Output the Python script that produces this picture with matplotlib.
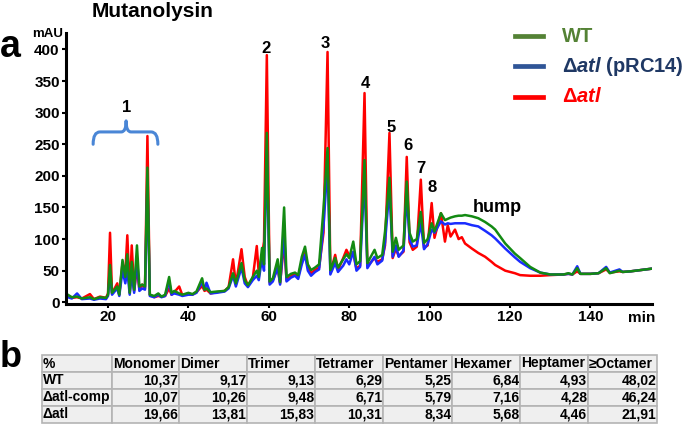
import matplotlib
matplotlib.use("Agg")
import matplotlib.pyplot as plt
from matplotlib.path import Path
from matplotlib.patches import PathPatch
from matplotlib.lines import Line2D
from matplotlib.table import Table

plt.rcParams['font.family'] = ['Liberation Sans', 'DejaVu Sans']
plt.rcParams['font.weight'] = 'bold'
plt.rcParams['mathtext.fontset'] = 'custom'
plt.rcParams['mathtext.it'] = 'Liberation Sans:italic:bold'
plt.rcParams['mathtext.rm'] = 'Liberation Sans:bold'

# chromatogram (min, mAU)
time = [
    10.0, 11.0, 12.3, 13.5, 15.5, 16.5, 18.0, 19.5, 20.0, 20.5,
    21.0, 22.3, 22.8, 23.6, 24.3, 24.8, 25.4, 25.9, 26.5, 27.2,
    27.8, 28.5, 29.2, 29.8, 30.4, 31.5, 32.5, 33.3, 34.2, 35.2,
    35.8, 36.5, 37.7, 38.5, 40.0, 41.0, 42.0, 43.4, 44.0, 44.5,
    45.5, 47.0, 49.0, 50.0, 51.1, 51.8, 53.2, 54.0, 54.8, 56.0,
    57.0, 57.5, 58.3, 58.8, 59.5, 60.2, 61.0, 62.2, 62.8, 63.8,
    64.4, 65.5, 66.5, 67.3, 68.2, 69.0, 69.7, 70.5, 71.5, 72.5,
    73.6, 74.6, 75.3, 76.5, 77.2, 78.5, 79.3, 80.0, 81.0, 81.8,
    82.7, 83.8, 84.5, 86.3, 87.0, 88.2, 88.9, 90.0, 90.8, 91.6,
    92.3, 93.5, 94.3, 95.0, 95.8, 96.8, 97.8, 98.6, 99.5, 100.5,
    101.2, 102.8, 103.8, 104.5, 105.2, 106.3, 107.2, 108.0, 108.8, 110.5,
    112.1, 113.8, 115.4, 116.3, 118.8, 121.2, 122.5, 125.0, 127.5, 130.0,
    133.3, 134.5, 135.5, 136.7, 137.5, 140.0, 142.0, 143.9, 144.8, 147.2,
    148.0, 150.0, 152.5, 155.0,
]
wt = [
    12, 8, 9, 6, 8, 5, 8, 7, 12, 59,
    15, 25, 12, 67, 40, 76, 15, 64, 20, 90,
    25, 28, 25, 213, 12, 10, 14, 9, 12, 40,
    15, 18, 14, 12, 15, 13, 17, 38, 20, 22,
    16, 17, 18, 24, 46, 30, 62, 35, 27, 40,
    50, 40, 86, 60, 268, 33, 38, 68, 32, 150,
    40, 45, 47, 43, 72, 88, 60, 51, 55, 60,
    149, 244, 51, 70, 55, 68, 76, 70, 96, 60,
    65, 225, 62, 83, 70, 75, 112, 197, 80, 102,
    83, 90, 191, 110, 96, 100, 143, 94, 100, 125,
    112, 141, 130, 132, 134, 136, 137, 137, 138, 136,
    133, 127, 120, 115, 93, 77, 70, 56, 47, 44,
    44, 46, 44, 54, 45, 45, 46, 54, 46, 50,
    48, 49, 51, 53,
]
comp = [
    8, 6, 14, 5, 6, 4, 6, 5, 10, 45,
    12, 22, 10, 50, 30, 50, 12, 45, 15, 70,
    18, 22, 20, 190, 10, 8, 12, 8, 10, 33,
    12, 14, 12, 10, 12, 12, 15, 32, 20, 31,
    14, 15, 17, 22, 42, 25, 55, 30, 24, 35,
    42, 35, 70, 50, 240, 28, 33, 55, 28, 110,
    33, 39, 42, 37, 60, 75, 50, 42, 48, 52,
    120, 220, 44, 62, 48, 58, 68, 60, 80, 50,
    56, 200, 54, 72, 60, 66, 95, 180, 72, 90,
    72, 82, 170, 100, 88, 90, 125, 84, 92, 115,
    110, 128, 123, 125, 124, 125, 125, 125, 125, 122,
    120, 113, 106, 101, 85, 71, 64, 54, 47, 44,
    44, 45, 44, 57, 45, 45, 46, 56, 47, 52,
    48, 49, 51, 53,
]
atl = [
    10, 7, 8, 6, 13, 5, 9, 7, 14, 110,
    14, 30, 12, 62, 45, 106, 15, 90, 18, 55,
    20, 28, 22, 263, 12, 8, 10, 9, 10, 22,
    12, 16, 25, 11, 14, 12, 16, 26, 18, 20,
    14, 16, 18, 24, 68, 28, 84, 40, 26, 38,
    89, 45, 75, 96, 391, 31, 35, 55, 30, 95,
    35, 41, 46, 40, 65, 78, 55, 46, 51, 55,
    110, 396, 47, 75, 51, 70, 83, 74, 78, 53,
    58, 331, 57, 70, 64, 68, 90, 268, 70, 85,
    73, 80, 230, 95, 83, 88, 194, 86, 90, 157,
    102, 141, 96, 122, 104, 115, 100, 103, 93, 85,
    78, 72, 64, 59, 50, 46, 43, 42, 42, 43,
    44, 45, 44, 49, 45, 45, 46, 52, 47, 49,
    48, 49, 51, 53,
]
assert len(time) == len(wt) == len(comp) == len(atl)

peak_ids = ['1', '2', '3', '4', '5', '6', '7', '8']
peak_x = [24.7, 59.4, 74.1, 83.9, 90.4, 94.5, 97.7, 100.6]
peak_y = [301, 394, 402, 339, 269, 241, 205, 175]

legend_names = ['WT', r'$\Delta\mathit{atl}$ (pRC14)', r'$\Delta\mathit{atl}$']
legend_line_colors = ['#548235', '#2f5597', '#ff0000']
legend_text_colors = ['#548235', '#1f3864', '#ff0000']

col_names = ['%', 'Monomer', 'Dimer', 'Trimer', 'Tetramer', 'Pentamer',
             'Hexamer', 'Heptamer', '\u2265Octamer']
strains = ['WT', '\u0394atl-comp', '\u0394atl']
pct_wt = [10.37, 9.17, 9.13, 6.29, 5.25, 6.84, 4.93, 48.02]
pct_comp = [10.07, 10.26, 9.48, 6.71, 5.79, 7.16, 4.28, 46.24]
pct_atl = [19.66, 13.81, 15.83, 10.31, 8.34, 5.68, 4.46, 21.91]

W, H = 685, 425
fig = plt.figure(figsize=(W / 100, H / 100), dpi=100)
ax = fig.add_axes([66 / W, 1 - 304 / H, 586 / W, 271 / H])

ax.plot(time, atl, color='#ff0000', lw=1.8)
ax.plot(time, comp, color='#1a2cff', lw=1.8)
ax.plot(time, wt, color='#138a13', lw=1.8)

ax.set_xlim(9.55, 155.3)
ax.set_ylim(-2.7, 426)
ax.set_xticks(range(20, 141, 20))
ax.set_yticks(range(0, 401, 50))
for s in ['top', 'right']:
    ax.spines[s].set_visible(False)
for s in ['left', 'bottom']:
    ax.spines[s].set_linewidth(2.2)
ax.tick_params(axis='both', labelsize=11, width=1.5, length=3, pad=1.5)
for lab in ax.get_xticklabels() + ax.get_yticklabels():
    lab.set_fontweight('bold')

for pid, px, py in zip(peak_ids, peak_x, peak_y):
    ax.text(px, py, pid, ha='center', va='baseline', fontsize=12)
ax.text(110.8, 143, 'hump', ha='left', va='baseline', fontsize=13)

# curly bracket over the monomer group
verts = [(16.3, 250), (16.3, 269.5), (18.0, 269.5), (23.3, 269.5),
         (24.5, 269.5), (24.5, 287), (24.5, 269.5), (25.7, 269.5),
         (30.7, 269.5), (32.4, 269.5), (32.4, 250)]
codes = [Path.MOVETO, Path.CURVE3, Path.CURVE3, Path.LINETO,
         Path.CURVE3, Path.CURVE3, Path.CURVE3, Path.CURVE3,
         Path.LINETO, Path.CURVE3, Path.CURVE3]
ax.add_patch(PathPatch(Path(verts, codes), fill=False, ec='#4a86d6', lw=2.2,
                       capstyle='round', joinstyle='round'))

fig.text(153 / W, 1 - 17 / H, 'Mutanolysin', ha='center', va='baseline', fontsize=15)
fig.text(0.0, 1 - 57 / H, 'a', ha='left', va='baseline', fontsize=27)
fig.text(0.0, 1 - 367 / H, 'b', ha='left', va='baseline', fontsize=26)
fig.text(63 / W, 1 - 37 / H, 'mAU', ha='right', va='baseline', fontsize=9.5)
fig.text(642 / W, 1 - 322 / H, 'min', ha='center', va='baseline', fontsize=11)

for i, (name, lc, tc) in enumerate(zip(legend_names, legend_line_colors, legend_text_colors)):
    yy = 1 - [36, 66, 97][i] / H
    fig.add_artist(Line2D([515 / W, 543 / W], [yy, yy], color=lc, lw=3.4,
                          transform=fig.transFigure))
    fig.text(562 / W, yy, name, ha='left', va='center', fontsize=14.5, color=tc)

# table
tax = fig.add_axes([42 / W, 2 / H, 615 / W, 68 / H])
tax.axis('off')
tab = Table(tax, bbox=[0, 0, 1, 1])
col_w = [70, 67, 68, 68, 68, 69, 68, 68, 69]
for c, name in enumerate(col_names):
    tab.add_cell(0, c, col_w[c], 1, text=name, loc='left',
                 facecolor='#efefef', edgecolor='#b4b4b4')
for r, (label, vals) in enumerate(zip(strains, [pct_wt, pct_comp, pct_atl]), start=1):
    tab.add_cell(r, 0, col_w[0], 1, text=label, loc='left',
                 facecolor='#efefef', edgecolor='#b4b4b4')
    for c, v in enumerate(vals, start=1):
        tab.add_cell(r, c, col_w[c], 1, text=f"{v:.2f}".replace('.', ','), loc='right',
                     facecolor='#efefef', edgecolor='#b4b4b4')
tab.auto_set_font_size(False)
tab.set_fontsize(10)
for cell in tab.get_celld().values():
    cell.PAD = 0.01
    cell.set_linewidth(1.2)
    cell.get_text().set_fontweight('bold')
tax.add_table(tab)

fig.savefig('out.png', dpi=100)
